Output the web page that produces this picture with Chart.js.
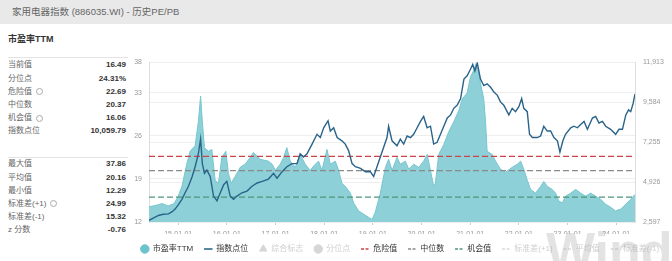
<!DOCTYPE html>
<html>
<head>
<meta charset="utf-8">
<script src="https://cdn.jsdelivr.net/npm/chart.js@4.4.1/dist/chart.umd.min.js"></script>
<style>
    html, body { margin: 0; padding: 0; background: #fff; width: 672px; height: 261px; overflow: hidden;
        font-family: "Liberation Sans", "Noto Sans CJK SC", sans-serif; }
    #titlebar { position: absolute; left: 0; top: 0; width: 672px; height: 24px; background: #e9e9e9; color: #666;
        font-size: 9.5px; line-height: 24px; padding-left: 12px; box-sizing: border-box; }
    #subtitle { position: absolute; left: 8px; top: 32px; font-size: 9px; font-weight: bold; color: #333; }
    .stats { position: absolute; left: 8px; width: 118px; }
    .row { position: relative; height: 13.2px; line-height: 13.2px; font-size: 8px; color: #666; white-space: nowrap; }
    .row .v { position: absolute; right: 0; top: 0; color: #333; font-weight: bold; }
    .sep { position: absolute; left: 8px; width: 120px; height: 1px; background: #e3e3e3; }
    .info { display: inline-block; width: 5px; height: 5px; border: 1px solid #aaa; border-radius: 50%; margin-left: 4px; vertical-align: middle; }
    #wrap { position: absolute; left: 128px; top: 50px; width: 544px; height: 213px; }
    #wm { position: absolute; left: 546px; top: 225px; font-size: 52px; line-height: 52px; font-weight: bold;
        color: rgba(170, 170, 170, 0.33); pointer-events: none; font-family: "Liberation Sans", sans-serif; }
</style>
</head>
<body>
<div id="titlebar">家用电器指数 (886035.WI) - 历史PE/PB</div>
<div id="subtitle">市盈率TTM</div>
<div class="sep" style="top:57px"></div>
<div class="stats" id="stats1" style="top:58.4px"></div>
<div class="sep" style="top:156.5px"></div>
<div class="stats" id="stats2" style="top:157.4px"></div>
<div id="wrap"><canvas id="chart" width="544" height="213"></canvas></div>
<div id="wm">Wind</div>
<script>
// PE TTM (left axis)
var peDates = ['2014-05-27', '2014-06-26', '2014-08-03', '2014-09-02', '2014-10-17', '2014-12-01',
    '2015-01-01', '2015-01-29', '2015-03-06', '2015-03-31', '2015-05-08', '2015-06-01', '2015-06-18', '2015-07-01',
    '2015-07-17', '2015-08-16', '2015-09-10', '2015-10-05', '2015-10-30', '2015-11-24', '2015-12-24',
    '2016-01-13', '2016-02-02', '2016-03-03', '2016-04-10', '2016-05-17', '2016-06-24', '2016-07-18', '2016-09-07',
    '2016-11-08', '2016-12-06', '2016-12-29',
    '2017-02-05', '2017-03-02', '2017-03-27', '2017-04-21', '2017-05-29', '2017-07-05', '2017-08-12', '2017-09-18',
    '2017-10-26', '2017-11-20', '2017-12-15',
    '2018-01-22', '2018-02-16', '2018-03-25', '2018-04-19', '2018-05-14', '2018-06-08', '2018-07-16', '2018-08-10',
    '2018-09-16', '2018-11-06', '2018-12-26',
    '2019-01-19', '2019-02-26', '2019-04-05', '2019-04-29', '2019-05-25', '2019-07-01', '2019-07-26', '2019-09-02',
    '2019-09-27', '2019-11-03', '2019-12-11',
    '2020-01-17', '2020-02-12', '2020-03-08', '2020-04-01', '2020-04-14', '2020-05-09', '2020-06-16', '2020-07-23',
    '2020-08-30', '2020-10-06', '2020-11-01', '2020-12-08',
    '2021-01-03', '2021-01-28', '2021-02-15', '2021-03-04', '2021-03-19', '2021-04-13', '2021-04-26', '2021-05-08',
    '2021-06-15', '2021-07-10', '2021-08-16', '2021-09-23', '2021-11-12', '2021-12-20',
    '2022-01-14', '2022-02-07', '2022-03-05', '2022-03-30', '2022-05-06', '2022-06-13', '2022-07-07', '2022-08-02',
    '2022-09-08', '2022-10-03', '2022-10-28', '2022-11-23', '2022-12-17',
    '2023-01-25', '2023-03-03', '2023-04-09', '2023-05-17', '2023-06-23', '2023-07-31', '2023-09-06', '2023-10-14',
    '2023-11-20', '2023-12-28',
    '2024-02-04', '2024-03-13', '2024-04-19', '2024-05-21'];
var peValues = [14.5, 14.6, 14.8, 15.0, 14.6, 15.0,
    16.2, 17.8, 21.4, 23.5, 24.4, 28.3, 32.5, 28.3,
    24.1, 23.5, 23.8, 18.8, 18.3, 22.5, 23.5,
    19.9, 18.3, 19.4, 20.9, 21.4, 22.5, 23.3, 22.2,
    21.9, 21.4, 20.4,
    21.4, 22.5, 24.1, 21.9, 20.9, 23.0, 21.4, 20.4,
    21.4, 21.9, 20.4,
    23.8, 21.4, 21.9, 20.4, 18.3, 17.8, 16.7, 15.1,
    13.8, 13.1, 12.4,
    13.6, 16.7, 20.9, 22.2, 20.4, 22.5, 21.4, 21.9,
    20.6, 21.4, 20.9,
    21.9, 23.0, 20.4, 17.8, 18.3, 23.0, 24.6, 26.7,
    28.3, 30.1, 32.0, 33.0,
    35.6, 36.7, 37.8, 36.5, 34.6, 32.0, 28.3, 23.5,
    23.0, 21.9, 20.6, 20.1, 20.9, 21.4,
    21.9, 20.6, 18.8, 17.3, 16.7, 17.8, 18.6, 17.8,
    17.3, 16.7, 15.4, 15.1, 16.2,
    16.7, 17.3, 16.7, 16.2, 16.7, 16.2, 15.7, 14.9,
    14.4, 13.8,
    14.1, 14.9, 15.7, 16.49];

// index points (right axis)
var idxDates = ['2014-05-27', '2014-08-06', '2014-09-10', '2014-10-20', '2014-11-17', '2014-12-09',
    '2015-01-01', '2015-01-29', '2015-02-22', '2015-03-19', '2015-04-16', '2015-05-08', '2015-06-01', '2015-06-18',
    '2015-07-01', '2015-07-17', '2015-08-04', '2015-08-29', '2015-09-23', '2015-10-19', '2015-11-13', '2015-12-08',
    '2016-01-01', '2016-01-26', '2016-02-20', '2016-03-17', '2016-04-23', '2016-05-31', '2016-07-08', '2016-08-15',
    '2016-09-22', '2016-11-08', '2016-12-16',
    '2017-01-12', '2017-02-19', '2017-03-27', '2017-05-04', '2017-06-11', '2017-07-05', '2017-07-30', '2017-08-25',
    '2017-10-02', '2017-11-08', '2017-12-03', '2017-12-28',
    '2018-01-30', '2018-02-16', '2018-03-13', '2018-04-08', '2018-05-14', '2018-06-08', '2018-07-03', '2018-07-29',
    '2018-08-23', '2018-09-30', '2018-11-06', '2018-12-13',
    '2019-01-07', '2019-02-01', '2019-02-26', '2019-03-23', '2019-04-17', '2019-04-29', '2019-05-25', '2019-07-01',
    '2019-07-26', '2019-08-20', '2019-09-15', '2019-10-10', '2019-11-03', '2019-11-29', '2019-12-24',
    '2020-01-17', '2020-02-12', '2020-03-08', '2020-04-01', '2020-04-27', '2020-05-22', '2020-06-16', '2020-07-12',
    '2020-08-06', '2020-08-30', '2020-09-25', '2020-10-20', '2020-11-14', '2020-12-08',
    '2021-01-03', '2021-01-20', '2021-02-05', '2021-02-23', '2021-03-19', '2021-04-13', '2021-05-08', '2021-06-03',
    '2021-06-28', '2021-07-24', '2021-08-16', '2021-09-10', '2021-10-05', '2021-10-18', '2021-11-12', '2021-12-07',
    '2022-01-01', '2022-01-22', '2022-02-07', '2022-03-05', '2022-03-22', '2022-04-12', '2022-05-19', '2022-06-13',
    '2022-07-07', '2022-08-02', '2022-08-27', '2022-09-21', '2022-10-17', '2022-11-05', '2022-11-27', '2022-12-17',
    '2023-01-25', '2023-02-18', '2023-03-16', '2023-04-09', '2023-05-05', '2023-05-30', '2023-07-07', '2023-07-31',
    '2023-08-25', '2023-09-20', '2023-10-14', '2023-11-20', '2023-12-28',
    '2024-01-22', '2024-02-17', '2024-03-13', '2024-04-03', '2024-04-19', '2024-05-07', '2024-05-21'];
var idxValues = [2690, 2977, 3050, 3070, 3200, 3350,
    3600, 3920, 4300, 4680, 5250, 5820, 6570, 7440,
    6000, 5437, 5625, 5250, 4110, 3830, 4300, 4770,
    4965, 4110, 3920, 4110, 4300, 4400, 4680, 4870,
    4965, 5100, 5437,
    5150, 5530, 5820, 6000, 6000, 6570, 6385, 6570,
    7140, 7710, 7520, 8090,
    8500, 7900, 8090, 7520, 7330, 7140, 6760, 6000,
    5820, 5720, 5530, 5530,
    5250, 5820, 6385, 6950, 7520, 8180, 7330, 7040,
    7425, 7140, 7610, 7520, 7710, 8090, 8460,
    8750, 8090, 8180, 7140, 7240, 7710, 8180, 8660,
    8840, 9225, 9410, 9790, 10930, 11117,
    11500, 11780, 11400, 11870, 10930, 10550, 10650, 10450,
    10170, 9980, 9600, 9410, 9030, 8840, 9225, 9030,
    9320, 9790, 9225, 9030, 7710, 7520, 7520, 7610,
    8180, 7900, 7900, 7520, 7330, 6670, 7330, 7710,
    8090, 8180, 8090, 8280, 8460, 8000, 8660, 8750,
    8370, 8460, 8180, 8000, 7710,
    8000, 8000, 8840, 9130, 9030, 9510, 10060];

var xTickDates = ['2015-01-01', '2016-01-01', '2017-01-01', '2018-01-01', '2019-01-01',
    '2020-01-01', '2021-01-01', '2022-01-01', '2023-01-01', '2024-01-01'];
var peTicks = [12, 19, 26, 33, 38];
var idxTicks = [2597, 4926, 7255, 9584, 11913];

var dangerValue = 22.69;
var medianValue = 20.37;
var chanceValue = 16.06;

var statLabels1 = ['当前值', '分位点', '危险值', '中位数', '机会值', '指数点位'];
var statValues1 = ['16.49', '24.31%', '22.69', '20.37', '16.06', '10,059.79'];
var statInfo1 = [false, false, true, false, true, false];
var statLabels2 = ['最大值', '平均值', '最小值', '标准差(+1)', '标准差(-1)', 'z 分数'];
var statValues2 = ['37.86', '20.16', '12.29', '24.99', '15.32', '-0.76'];
var statInfo2 = [false, false, false, true, false, false];

var legendNames = ['市盈率TTM', '指数点位', '综合标志', '分位点', '危险值', '中位数', '机会值', '标准差(+1)', '平均值', '标准差(-1)'];
var legendStyles = ['circle', 'line', 'triangle', 'circle', 'line', 'line', 'line', 'line', 'line', 'line'];
var legendColors = ['#6cc3cd', '#2d6a8f', '#d6d6d6', '#d6d6d6', '#c9454a', '#8a8a8a', '#4f957a', '#dadada', '#dadada', '#dadada'];
var legendDashed = [false, false, false, false, true, true, true, true, true, true];
var legendFaded = [false, false, true, true, false, false, false, true, true, true];

var fillStats = function (id, labels, values, info) {
    var html = '';
    for (var i = 0; i < labels.length; i++) {
        html += '<div class="row">' + labels[i] + (info[i] ? '<span class="info"></span>' : '') +
            '<span class="v">' + values[i] + '</span></div>';
    }
    document.getElementById(id).innerHTML = html;
};
fillStats('stats1', statLabels1, statValues1, statInfo1);
fillStats('stats2', statLabels2, statValues2, statInfo2);

// date string -> decimal year for the linear x scale
var toYear = function (s) {
    var d = new Date(s + 'T00:00:00Z');
    var y = d.getUTCFullYear();
    return y + (d.getTime() - Date.UTC(y, 0, 1)) / (365 * 86400000);
};
var pairs = function (dates, values) {
    return dates.map(function (d, i) { return { x: toYear(d), y: values[i] }; });
};
var xMin = toYear(peDates[0]);
var xMax = toYear(peDates[peDates.length - 1]);
var flat = function (v) { return [{ x: xMin, y: v }, { x: xMax, y: v }]; };

Chart.defaults.font.family = '"Liberation Sans", "Noto Sans CJK SC", sans-serif';

new Chart(document.getElementById('chart'), {
    type: 'line',
    data: {
        datasets: [{
            label: '指数点位', data: pairs(idxDates, idxValues), yAxisID: 'y1',
            borderColor: '#2a6389', borderWidth: 1.4, pointRadius: 0, fill: false, order: 0
        }, {
            label: '危险值', data: flat(dangerValue), yAxisID: 'y',
            borderColor: '#c9454a', borderWidth: 1.2, borderDash: [6, 3], pointRadius: 0, fill: false, order: 1
        }, {
            label: '中位数', data: flat(medianValue), yAxisID: 'y',
            borderColor: '#8a8a8a', borderWidth: 1.2, borderDash: [6, 3], pointRadius: 0, fill: false, order: 1
        }, {
            label: '机会值', data: flat(chanceValue), yAxisID: 'y',
            borderColor: '#4f957a', borderWidth: 1.2, borderDash: [6, 3], pointRadius: 0, fill: false, order: 1
        }, {
            label: '市盈率TTM', data: pairs(peDates, peValues), yAxisID: 'y',
            borderColor: '#78c6cf', backgroundColor: '#8dd0d7', borderWidth: 1, pointRadius: 0, fill: 'start', order: 5
        }]
    },
    options: {
        responsive: false,
        animation: false,
        layout: { padding: { top: 4 } },
        plugins: {
            tooltip: { enabled: false },
            legend: {
                position: 'bottom',
                onClick: null,
                labels: {
                    usePointStyle: true,
                    boxHeight: 6,
                    padding: 11,
                    font: { size: 8 },
                    generateLabels: function () {
                        return legendNames.map(function (name, i) {
                            return {
                                text: name,
                                pointStyle: legendStyles[i],
                                fillStyle: legendColors[i],
                                strokeStyle: legendColors[i],
                                lineWidth: legendStyles[i] === 'line' ? 1.6 : 1,
                                lineDash: legendDashed[i] ? [3, 1.5] : [],
                                fontColor: legendFaded[i] ? '#cfcfcf' : '#333',
                                hidden: false
                            };
                        });
                    }
                }
            }
        },
        scales: {
            x: {
                type: 'linear',
                min: xMin,
                max: xMax,
                afterBuildTicks: function (s) {
                    s.ticks = xTickDates.map(function (d) { return { value: toYear(d) }; });
                },
                afterFit: function (s) { s.height = 12; },
                ticks: {
                    autoSkip: false, maxRotation: 0, padding: 5, color: '#999', font: { size: 7 },
                    callback: function (v, i) { return xTickDates[i].slice(2); }
                },
                grid: { drawOnChartArea: false, tickLength: 3, color: '#cccccc' },
                border: { display: false }
            },
            y: {
                position: 'left',
                min: 12,
                max: 38,
                afterBuildTicks: function (s) {
                    s.ticks = peTicks.map(function (v) { return { value: v }; });
                },
                afterFit: function (s) { s.width = 21; },
                ticks: { padding: 7, color: '#999', font: { size: 7 } },
                grid: { color: '#eeeeee', drawTicks: false },
                border: { color: '#dddddd' }
            },
            y1: {
                position: 'right',
                min: 2597,
                max: 11913,
                afterBuildTicks: function (s) {
                    s.ticks = idxTicks.map(function (v) { return { value: v }; });
                },
                afterFit: function (s) { s.width = 37; },
                ticks: {
                    padding: 8, color: '#999', font: { size: 7 },
                    callback: function (v) { return v.toLocaleString('en-US'); }
                },
                grid: { color: '#eeeeee', drawTicks: false },
                border: { color: '#dddddd' }
            }
        }
    }
});
</script>
</body>
</html>
